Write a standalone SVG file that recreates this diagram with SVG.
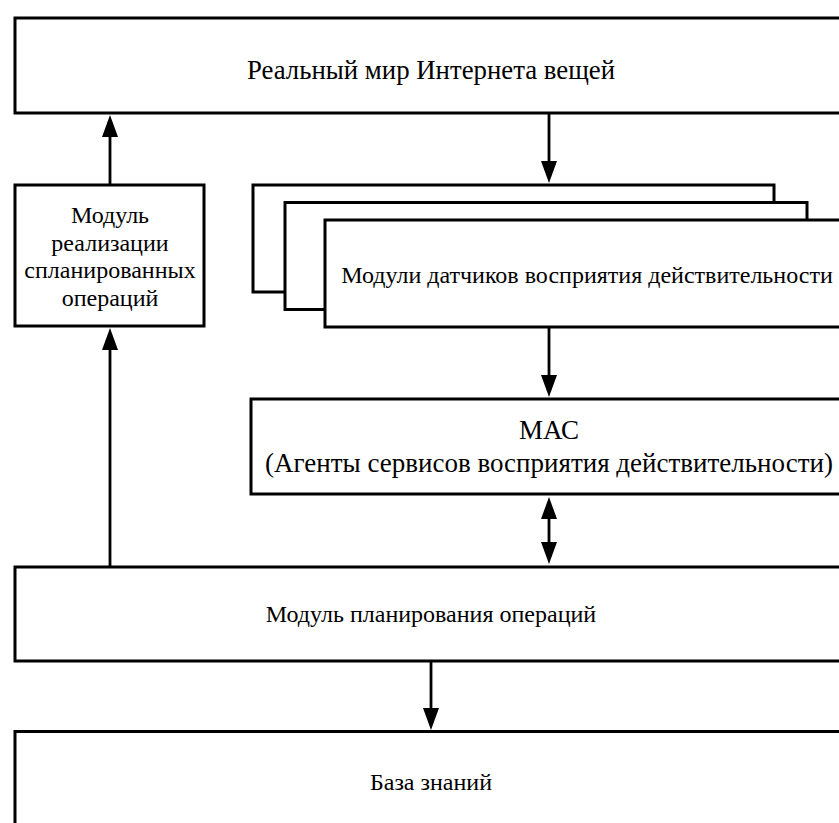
<svg xmlns="http://www.w3.org/2000/svg" width="839" height="823" viewBox="0 0 839 823">
<style>
.box{fill:#fff;stroke:#000;stroke-width:3;}
.lbl{font-family:'Liberation Serif','Times New Roman','DejaVu Serif',serif;font-size:24px;fill:#000;text-anchor:middle;}
.big{font-size:26.8px;}
.mas{font-size:27px;}
.ln{stroke:#000;stroke-width:2.8;fill:none;}
</style>
<defs>
<marker id="ah" markerUnits="userSpaceOnUse" markerWidth="24" markerHeight="18" refX="1" refY="8" orient="auto-start-reverse">
<path d="M0,0 L22,8 L0,16 z" fill="#000"/>
</marker>
</defs>
<rect width="839" height="823" fill="#fff"/>
<g id="world">
<rect class="box" x="15" y="18" width="832" height="95"/>
<text class="lbl big" x="431" y="78.5">Реальный мир Интернета вещей</text>
</g>
<g id="exec">
<rect class="box" x="15" y="185" width="189" height="141"/>
<text class="lbl" x="110" y="223">Модуль</text>
<text class="lbl" x="110" y="250.5">реализации</text>
<text class="lbl" x="110" y="278">спланированных</text>
<text class="lbl" x="110" y="305.5">операций</text>
</g>
<g id="sensors">
<rect class="box" x="253" y="185" width="521" height="107"/>
<rect class="box" x="285" y="202.5" width="522" height="107"/>
<rect class="box" x="325" y="220" width="522" height="107"/>
<text class="lbl" x="587" y="283">Модули датчиков восприятия действительности</text>
</g>
<g id="mas">
<rect class="box" x="251" y="399" width="596" height="95"/>
<text class="lbl mas" x="549" y="439">МАС</text>
<text class="lbl mas" x="549" y="472">(Агенты сервисов восприятия действительности)</text>
</g>
<g id="planning">
<rect class="box" x="15" y="567" width="832" height="94"/>
<text class="lbl" x="431" y="622">Модуль планирования операций</text>
</g>
<g id="kb">
<rect class="box" x="15" y="731.5" width="832" height="120"/>
<text class="lbl" x="431" y="790">База знаний</text>
</g>
<g id="connectors">
<line class="ln" x1="549" y1="113" x2="549" y2="162" marker-end="url(#ah)"/>
<line class="ln" x1="110" y1="185" x2="110" y2="136" marker-end="url(#ah)"/>
<line class="ln" x1="549" y1="327" x2="549" y2="376" marker-end="url(#ah)"/>
<line class="ln" x1="549" y1="518" x2="549" y2="543" marker-start="url(#ah)" marker-end="url(#ah)"/>
<line class="ln" x1="110" y1="567" x2="110" y2="349" marker-end="url(#ah)"/>
<line class="ln" x1="431" y1="661" x2="431" y2="709" marker-end="url(#ah)"/>
</g>
</svg>
